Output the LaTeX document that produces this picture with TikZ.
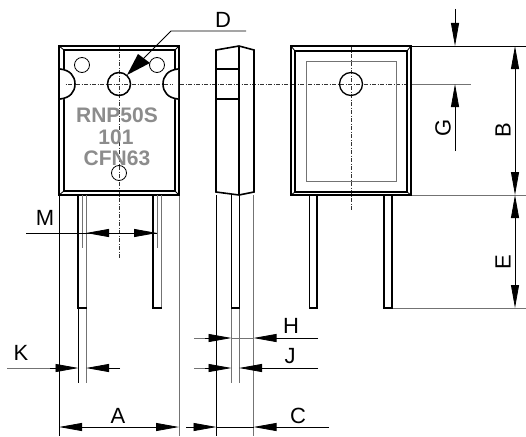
\documentclass[tikz,border=0pt]{standalone}
\usepackage{fontspec}
\setmainfont{Liberation Sans}
\usetikzlibrary{arrows.meta}
\definecolor{gl}{gray}{0.45}
\definecolor{mk}{gray}{0.55}
\tikzset{
 thick line/.style={line width=1.6pt,black},
 thin line/.style={line width=0.8pt,black},
 gray line/.style={line width=0.9pt,gl},
 center line/.style={line width=0.7pt,black!80,dash pattern=on 4pt off 1.5pt on 1pt off 1.5pt},
 dim/.style={line width=0.8pt,black,-{Triangle[length=23pt,width=8pt]}},
 dimtext/.style={inner sep=0pt,font=\fontsize{22}{24}\selectfont},
 marktext/.style={inner sep=0pt,text=mk,font=\fontsize{21}{23}\selectfont\bfseries},
}
\begin{document}
\begin{tikzpicture}[x=1pt,y=-1pt]
\useasboundingbox (0,0) rectangle (526,436);
\fill[white] (0,0) rectangle (526,436);
% center lines
\draw[center line] (119,46) -- (119,258);
\draw[center line] (351,46) -- (351,210);
\draw[center line] (60,84) -- (407,84);
% extension lines
\draw[thin line] (411,46) -- (526,46);
\draw[gray line] (411,84) -- (471,84);
\draw[gray line] (411,195) -- (526,195);
\draw[gray line] (392,308) -- (526,308);
\draw[thin line] (59,195) -- (59,436);
\draw[gray line] (179,195) -- (179,436);
\draw[thin line] (216.5,195) -- (216.5,436);
\draw[gray line] (253.5,195) -- (253.5,436);
% front body
\draw[thick line] (59,46) rectangle (179,195);
\draw[thick line] (64,50) rectangle (175,191);
\draw[thin line] (59,46) -- (64,50) (179,46) -- (175,50) (59,195) -- (64,191) (179,195) -- (175,191);
\fill[white] (60,69) rectangle (65,99) (173,69) rectangle (178,99);
\draw[thick line] (60,69) .. controls (70,70) and (75,76) .. (75,84) .. controls (75,92) and (70,98) .. (60,99);
\draw[thick line] (178,69) .. controls (168,70) and (163,76) .. (163,84) .. controls (163,92) and (168,98) .. (178,99);
\draw[thin line] (82,65) circle[radius=7.5];
\draw[thin line] (157,65) circle[radius=7.5];
\draw[thin line] (119,173) circle[radius=7.5];
\draw[line width=1.5pt] (119,84) circle[radius=11.5];
\node[marktext] (mark1) at (117,115) {RNP50S};
\node[marktext] (mark2) at (116,137) {101};
\node[marktext] (mark3) at (117,158) {CFN63};
% front leads
\draw[gray line] (86,195) -- (86,383);
\draw[gray line] (161,195) -- (161,308);
\draw[gray line] (82,195) -- (82,248);
\draw[gray line] (157,195) -- (157,248);
\draw[thin line] (78.5,308) -- (78.5,383);
\draw[thick line] (78,195) -- (78,308) -- (86.5,308);
\draw[thick line] (153,195) -- (153,308) -- (161.5,308);
% side view
\draw[thick line] (216,50) -- (239,46) -- (254,50) -- (254,192) -- (239,195) -- (216,192) -- cycle;
\draw[thick line] (239,46) -- (239,195);
\draw[thick line] (216,69) -- (239,69) (216,99) -- (239,99);
\draw[gray line] (231.5,308) -- (231.5,383);
\draw[gray line] (239,308) -- (239,383);
\draw[thin line] (231.5,195) -- (231.5,308);
\draw[thick line] (239.5,195) -- (239.5,308) -- (231,308);
% back view
\draw[thick line] (291,46) rectangle (411,195);
\draw[thick line] (295,51) rectangle (407,192);
\draw[thin line] (291,46) -- (295,51) (411,46) -- (407,51) (291,195) -- (295,192) (411,195) -- (407,192);
\draw[gray line] (306,61) rectangle (396,181);
\draw[line width=1.3pt] (351,84) circle[radius=11.5];
\draw[thick line] (309.5,195) rectangle (317,308);
\draw[thick line] (384,195) rectangle (392,308);
% D leader
\coordinate (dEnd) at (246,31);
\coordinate (dKnee) at (171,31);
\coordinate (dTip) at (127,75);
\draw[thin line] (dEnd) -- (dKnee) -- (143,59);
\fill (dTip) -- (138,54) -- (150,63) -- cycle;
\node[dimtext] (labD) at (223,20) {D};
% G
\draw[dim] (455,9) -- (455,46);
\draw[dim] (455,151) -- (455,84);
\node[dimtext,rotate=90] (labG) at (443,128) {G};
% B
\draw[dim] (515,120) -- (515,46);
\draw[dim] (515,120) -- (515,195);
\node[dimtext,rotate=90] (labB) at (503,130) {B};
% E
\draw[dim] (515,250) -- (515,195);
\draw[dim] (515,250) -- (515,308);
\node[dimtext,rotate=90] (labE) at (503,262) {E};
% M
\draw[thin line] (26,233) -- (157,233);
\draw[dim] (110,233) -- (86,233);
\draw[dim] (133,233) -- (157,233);
\node[dimtext] (labM) at (45,218) {M};
% K
\draw[gray line] (7,368) -- (55,368);
\draw[dim] (50,368) -- (78.5,368);
\draw[dim] (120,368) -- (86,368);
\node[dimtext] (labK) at (21,353) {K};
% A
\draw[dim] (118,427) -- (59,427);
\draw[dim] (118,427) -- (179,427);
\node[dimtext] (labA) at (118,416) {A};
% H
\draw[gray line] (194,338) -- (209,338);
\draw[dim] (205,338) -- (231.5,338);
\draw[dim] (318,338) -- (253.5,338);
\draw[gray line] (231,338) -- (254,338);
\node[dimtext] (labH) at (291,326) {H};
% J
\draw[gray line] (194,368) -- (209,368);
\draw[dim] (205,368) -- (231.5,368);
\draw[dim] (318,368) -- (239,368);
\node[dimtext] (labJ) at (290,356) {J};
% C
\draw[dim] (186,427) -- (216.5,427);
\draw[dim] (329,427) -- (253.5,427);
\draw[thin line] (216.5,427) -- (253.5,427);
\node[dimtext] (labC) at (298,416) {C};
\end{tikzpicture}
\end{document}
